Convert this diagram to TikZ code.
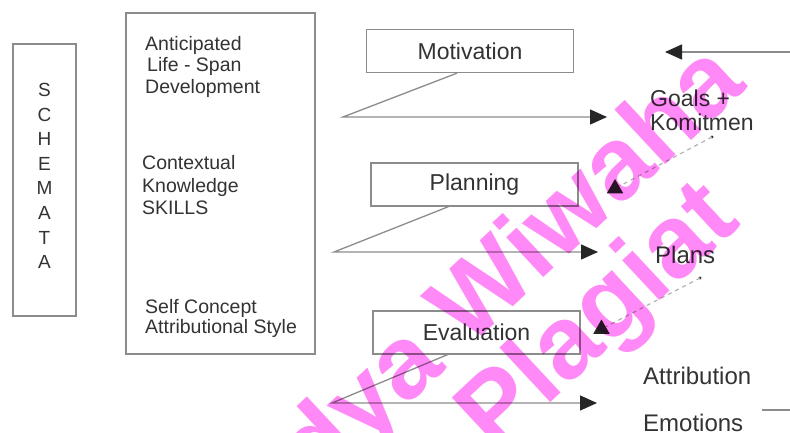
\documentclass[tikz,border=0pt]{standalone}
\usepackage{fontspec}
\setmainfont{Liberation Sans}
\usetikzlibrary{positioning,shapes.geometric,arrows.meta}
\definecolor{ink}{HTML}{333333}
\definecolor{rule}{HTML}{8C8C8C}
\definecolor{wmpink}{RGB}{255,138,247}
\tikzstyle{frame}=[draw=rule,line width=1.3pt,inner sep=0pt]
\tikzstyle{stage}=[frame,minimum width=207pt,minimum height=43pt,text=ink,font=\fontsize{23}{23}\selectfont]
\tikzstyle{note}=[anchor=west,align=left,inner sep=0pt,text=ink,font=\fontsize{19.5}{21.5}\selectfont]
\tikzstyle{flow}=[draw=rule,line width=1.3pt,-{Triangle[length=17pt,width=15pt,color=black!85]}]
\tikzstyle{hint}=[draw=black!30,line width=1.2pt,dash pattern=on 4pt off 4pt]
\tikzstyle{arrowtri}=[regular polygon,regular polygon sides=3,fill=black!85,minimum size=19pt,inner sep=0pt]
\tikzstyle{stamp}=[text=wmpink,font=\fontsize{103}{103}\selectfont\bfseries,rotate=43,anchor=base,inner sep=0pt]
\newcommand{\newStage}[3]{\node[stage](#1) at (#3) {#2};}
\newcommand{\newFlow}[4]{\draw[flow] ([xshift=#2]#1.south) -- (#3) -- (#4);}

\begin{document}
\begin{tikzpicture}[x=1pt,y=-1pt]
    \fill[white] (0,0) rectangle (790,433);
    \useasboundingbox (0,0) rectangle (790,433);
    % schemata column
    \node[frame,minimum width=63pt,minimum height=272pt] (schema) at (44.5,180) {};
    \node[text=ink,align=center,inner sep=0pt,font=\fontsize{19}{24.6}\selectfont] (schemaText) at (44.5,176) {S\\C\\H\\E\\M\\A\\T\\A};
    % context column
    \node[frame,minimum width=189pt,minimum height=341pt] (context) at (220.5,183.5) {};
    \node[note] (lifespan) at (145,66.5) {Anticipated\\\hspace{2pt}Life - Span\\Development};
    \node[note,font=\fontsize{19.5}{22.5}\selectfont] (knowledge) at (142,185.5) {Contextual\\Knowledge\\SKILLS};
    \node[note,font=\fontsize{19.5}{20}\selectfont] (self) at (145,318) {Self Concept\\Attributional Style};
    % stages
    \newStage{motiv}{Motivation}{470,51}
    \newStage{plan}{Planning}{474.5,184.5}
    \newStage{eval}{Evaluation}{476.5,332.5}
    % outcomes
    \node[note,font=\fontsize{23}{24}\selectfont] (goals) at (650,110) {Goals +\\Komitmen};
    \node[note,font=\fontsize{24}{24}\selectfont] (plans) at (655,255) {Plans};
    \node[note,font=\fontsize{24}{24}\selectfont] (attr) at (643,376) {Attribution};
    \node[note,font=\fontsize{24}{24}\selectfont] (emo) at (643,423) {Emotions};
    % flows
    \coordinate (motivBend) at (343,117);
    \coordinate (goalsIn) at (607,117);
    \coordinate (planBend) at (334,252);
    \coordinate (plansIn) at (598,252);
    \coordinate (evalBend) at (332,403);
    \coordinate (attrIn) at (597,403);
    \newFlow{motiv}{-13pt}{motivBend}{goalsIn}
    \newFlow{plan}{-26pt}{planBend}{plansIn}
    \newFlow{eval}{-29pt}{evalBend}{attrIn}
    \coordinate (feedback) at (790,52);
    \coordinate (goalsTop) at (665,52);
    \draw[flow] (feedback) -- (goalsTop);
    \coordinate (emoA) at (762,410);
    \coordinate (emoB) at (790,410);
    \draw[draw=rule,line width=1.3pt] (emoA) -- (emoB);
    % dashed feedback
    \coordinate (goalsDot) at (712,137);
    \coordinate (plansDot) at (700,278);
    \fill[black!85] (goalsDot) circle (1.6pt);
    \fill[black!85] (plansDot) circle (1.6pt);
    \node[arrowtri] (planTip) at (615,188.5) {};
    \node[arrowtri] (evalTip) at (601.5,329) {};
    \draw[hint] (goalsDot) -- (planTip);
    \draw[hint] (plansDot) -- (evalTip);
    % watermark
    \begin{scope}[blend mode=multiply]
        \clip (0,0) rectangle (790,433);
        \node[stamp] (stampA) at (487,331) {Widya Wiwaha};
        \node[stamp] (stampB) at (619,339) {Plagiat};
    \end{scope}
\end{tikzpicture}
\end{document}
